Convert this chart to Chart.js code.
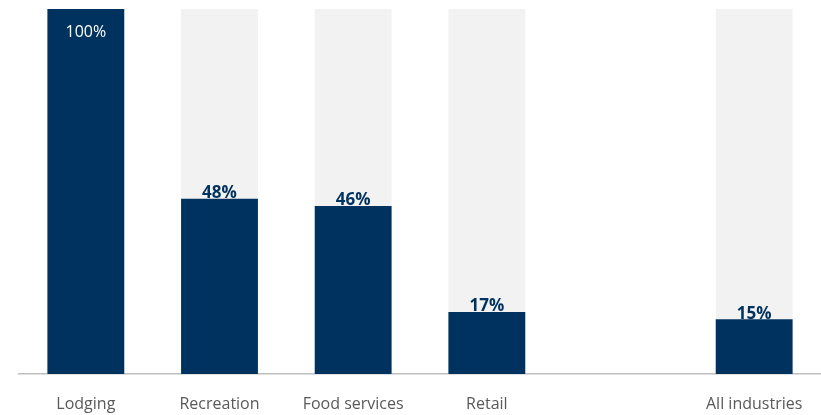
<!DOCTYPE html>
<html>
<head>
<meta charset="utf-8">
<script src="https://cdn.jsdelivr.net/npm/chart.js@4/dist/chart.umd.min.js"></script>
<style>
  html, body { margin: 0; padding: 0; background: #fff; }
  #wrap { width: 821px; height: 415px; position: relative; }
</style>
</head>
<body>
<div id="wrap"><canvas id="chart"></canvas></div>
<script>
// ─── Data ───
const categories = ['Lodging', 'Recreation', 'Food services', 'Retail', '', 'All industries'];
const shares = [100, 48, 46, 17, null, 15];
const fullScale = [100, 100, 100, 100, null, 100];

const NAVY = '#00325F';
const TRACK = '#F2F2F2';
const FONT = '"Open Sans", "Noto Sans", sans-serif';

// ─── Value labels: white inside the full bar, bold navy above the others ───
const valueLabels = {
  id: 'valueLabels',
  afterDatasetsDraw(chart) {
    const ctx = chart.ctx;
    const meta = chart.getDatasetMeta(0);
    ctx.save();
    ctx.textAlign = 'center';
    meta.data.forEach((bar, i) => {
      const v = shares[i];
      if (v == null) return;
      if (v >= 100) {
        ctx.fillStyle = '#FFFFFF';
        ctx.font = '16px ' + FONT;
        ctx.textBaseline = 'middle';
        ctx.fillText(v + '%', bar.x, bar.y + 23);
      } else {
        ctx.fillStyle = NAVY;
        ctx.font = 'bold 17px ' + FONT;
        ctx.textBaseline = 'bottom';
        ctx.fillText(v + '%', bar.x, bar.y + 3);
      }
    });
    ctx.restore();
  }
};

new Chart(document.getElementById('chart'), {
  type: 'bar',
  data: {
    labels: categories,
    datasets: [
      { data: shares, backgroundColor: NAVY, order: 0, grouped: false,
        barPercentage: 0.575, categoryPercentage: 1 },
      { data: fullScale, backgroundColor: TRACK, order: 1, grouped: false,
        barPercentage: 0.575, categoryPercentage: 1 }
    ]
  },
  options: {
    responsive: true,
    maintainAspectRatio: false,
    animation: false,
    layout: { padding: { left: 19, right: 0, top: 9, bottom: 2 } },
    plugins: { legend: { display: false }, tooltip: { enabled: false } },
    scales: {
      x: {
        grid: { display: false, drawTicks: false },
        border: { color: '#BFBFBF', width: 1.5 },
        ticks: { color: '#595959', font: { family: FONT, size: 16 }, padding: 21 },
        afterFit(scale) {
          // keep the axis flush with the right edge and a fixed label band
          scale.height = 39;
          scale.paddingLeft = 0;
          scale.paddingRight = 0;
        }
      },
      y: { display: false, min: 0, max: 100 }
    }
  },
  plugins: [valueLabels]
});
</script>
</body>
</html>
